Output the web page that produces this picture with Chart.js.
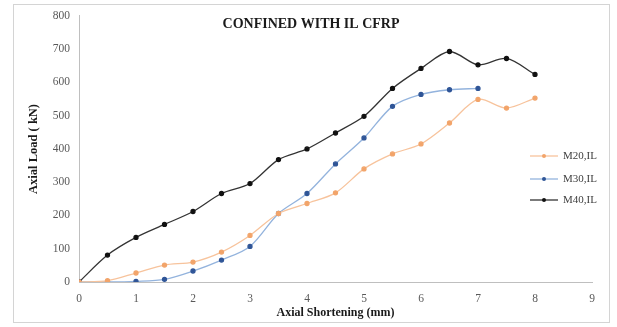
<!DOCTYPE html>
<html>
<head>
<meta charset="utf-8">
<script src="https://cdn.jsdelivr.net/npm/chart.js@4"></script>
<style>
html,body{margin:0;padding:0;background:#fff;}
#wrap{position:relative;width:617px;height:327px;}
</style>
</head>
<body>
<div id="wrap"><canvas id="c" width="617" height="327"></canvas></div>
<script>
const shortening = [0,0.5,1,1.5,2,2.5,3,3.5,4,4.5,5,5.5,6,6.5,7,7.5,8];
const m20 = [0,4,27,51,60,90,140,206,236,268,340,385,415,478,549,523,553];
const m30 = [0,0,2,8,33,66,107,206,266,355,433,528,564,578,582];
const m40 = [0,81,134,173,212,266,296,368,400,448,498,582,642,693,653,672,624];
const seriesNames = ['M20,IL','M30,IL','M40,IL'];
const chartTitle = 'CONFINED WITH IL CFRP';
const xTitle = 'Axial Shortening (mm)';
const yTitle = 'Axial Load ( kN)';

function pts(vals){ return vals.map((v,i)=>({x:shortening[i], y:v})); }

const SERIF = '"Liberation Serif","Times New Roman",serif';

const framePlugin = {
  id:'frame',
  beforeDraw(chart){
    const ctx = chart.ctx;
    ctx.save();
    ctx.fillStyle = '#fff';
    ctx.fillRect(0,0,chart.width,chart.height);
    ctx.strokeStyle = '#d4d4d4';
    ctx.lineWidth = 1;
    ctx.strokeRect(13.5,4.5,596,318);
    ctx.restore();
  },
  afterDraw(chart){
    const ctx = chart.ctx;
    ctx.save();
    ctx.fillStyle = '#1a1a1a';
    ctx.font = 'bold 14px ' + SERIF;
    ctx.textAlign = 'center';
    ctx.textBaseline = 'middle';
    ctx.fillText(chartTitle, 311, 24);
    // legend
    const ys = [156,179,200];
    chart.data.datasets.forEach((ds,i)=>{
      const y = ys[i];
      ctx.strokeStyle = ds.borderColor;
      ctx.lineWidth = 1.3;
      ctx.beginPath(); ctx.moveTo(530,y); ctx.lineTo(558,y); ctx.stroke();
      ctx.fillStyle = ds.pointBackgroundColor;
      ctx.beginPath(); ctx.arc(544,y,2,0,Math.PI*2); ctx.fill();
      ctx.fillStyle = '#404040';
      ctx.font = '11px ' + SERIF;
      ctx.textAlign = 'left';
      ctx.fillText(ds.label, 563, y);
    });
    ctx.restore();
  }
};

new Chart(document.getElementById('c'), {
  type:'line',
  data:{
    datasets:[
      {label:seriesNames[0], data:pts(m20), borderColor:'#F7C39C', pointBackgroundColor:'#F2A46A', pointBorderColor:'#F2A46A', pointRadius:2, borderWidth:1.3, tension:0.3},
      {label:seriesNames[1], data:pts(m30), borderColor:'#93B3DD', pointBackgroundColor:'#2F5597', pointBorderColor:'#2F5597', pointRadius:2, borderWidth:1.3, tension:0.3},
      {label:seriesNames[2], data:pts(m40), borderColor:'#333333', pointBackgroundColor:'#111', pointBorderColor:'#111', pointRadius:2, borderWidth:1.3, tension:0.3}
    ]
  },
  options:{
    responsive:false,
    animation:false,
    layout:{padding:{left:0,right:25,top:14,bottom:0}},
    plugins:{legend:{display:false}, title:{display:false}, tooltip:{enabled:false}},
    scales:{
      x:{
        type:'linear', min:0, max:9,
        ticks:{stepSize:1, color:'#595959', font:{family:SERIF,size:11.5}, padding:10, maxRotation:0},
        grid:{color:'rgba(0,0,0,0)', drawTicks:false},
        border:{display:true, color:'#bfbfbf', width:1},
        title:{display:true, text:xTitle, color:'#1a1a1a', font:{family:SERIF,size:12,weight:'bold'}, padding:{top:0,bottom:7}},
        afterFit(s){ s.height = 45; }
      },
      y:{
        min:0, max:800,
        ticks:{stepSize:100, color:'#595959', font:{family:SERIF,size:11.5}, padding:9},
        grid:{color:'rgba(0,0,0,0)', drawTicks:false},
        border:{display:true, color:'#bfbfbf', width:1},
        title:{display:true, text:yTitle, color:'#1a1a1a', font:{family:SERIF,size:12.5,weight:'bold'}, padding:{top:26,bottom:0}},
        afterFit(s){ s.width = 79; }
      }
    }
  },
  plugins:[framePlugin]
});
</script>
</body>
</html>
